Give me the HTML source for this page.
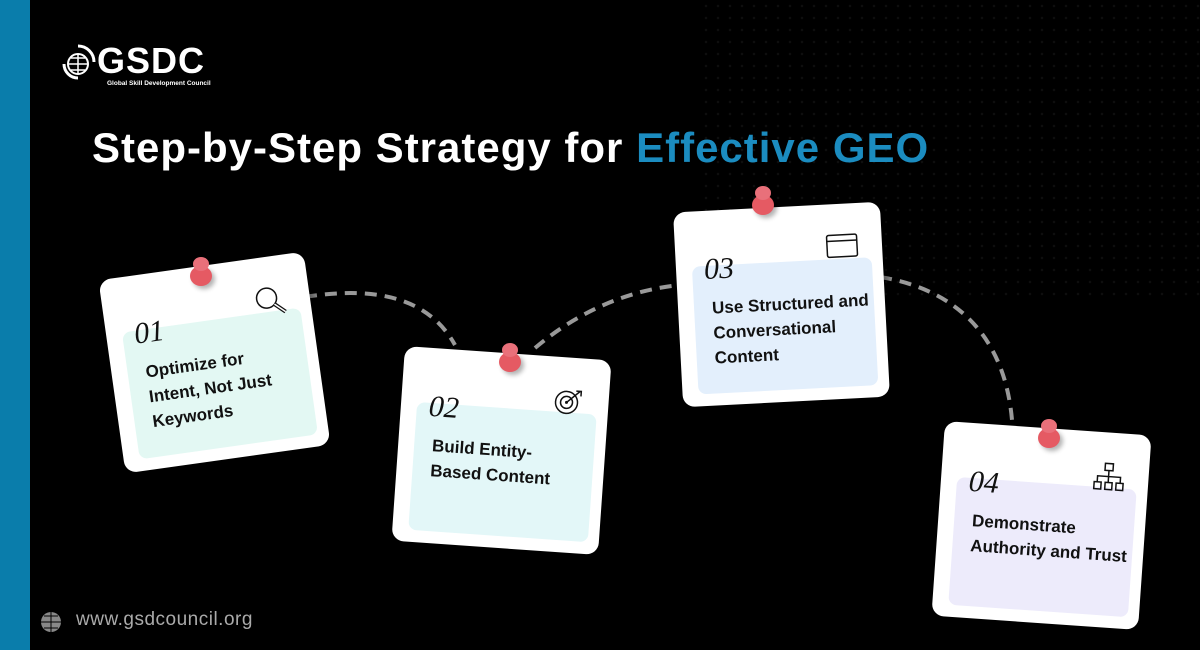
<!DOCTYPE html>
<html><head><meta charset="utf-8"><style>
body{margin:0;width:1200px;height:650px;background:#000;position:relative;overflow:hidden;font-family:"Liberation Sans",sans-serif}
.bar{position:absolute;left:0;top:0;width:30px;height:650px;background:#0a7dab}
.dots{position:absolute;left:700px;top:0;width:500px;height:300px;background-image:radial-gradient(#0e0e0e 1px,transparent 1.5px);background-size:12px 12px}
.title{position:absolute;left:92px;top:124px;font-size:42px;font-weight:bold;color:#fff;letter-spacing:1.0px}
.title span{color:#1b8cc0}
.card{position:absolute;width:207px;height:195px;background:#fff;border-radius:12px;box-shadow:4px 6px 10px rgba(0,0,0,.5)}
.panel{position:absolute;left:16px;top:55px;width:180px;height:128px;border-radius:8px}
.num{position:absolute;left:28px;top:42px;font-family:"Liberation Serif",serif;font-style:italic;font-size:30px;color:#111}
.txt{position:absolute;left:34px;top:85px;font-size:17px;font-weight:bold;color:#111;line-height:25px}
.icon{position:absolute;left:150px;top:28px}
.pin{position:absolute;width:22px;height:20px;border-radius:50%;background:#e55a63;box-shadow:3px 3px 5px rgba(0,0,0,.3)}
.pin:after{content:"";position:absolute;left:3px;top:-9px;width:16px;height:14px;border-radius:50%;background:#e9707a}
.foot{position:absolute;left:76px;top:609px;color:#aaa;font-size:19px;letter-spacing:0.5px}
</style></head><body>
<div class="bar"></div><div class="dots"></div>
<svg style="position:absolute;left:58px;top:42px" width="40" height="44" viewBox="0 0 40 44">
<circle cx="20" cy="22" r="10" fill="none" stroke="#fff" stroke-width="2"/>
<path d="M10 22h20M20 12v20M13 16h14M13 28h14" stroke="#fff" stroke-width="1.5"/>
<path d="M6 22a14 14 0 0 0 14 14" fill="none" stroke="#fff" stroke-width="3"/>
<path d="M20 4a16 16 0 0 1 16 16" fill="none" stroke="#fff" stroke-width="3"/>
</svg>
<div style="position:absolute;left:97px;top:40px;color:#fff;font-size:36px;font-weight:bold;letter-spacing:1px">GSDC</div>
<div style="position:absolute;left:107px;top:80px;color:#fff;font-size:6.5px;font-weight:bold">Global Skill Development Council</div>
<div class="title">Step-by-Step Strategy for <span>Effective GEO</span></div>
<svg style="position:absolute;left:0;top:0" width="1200" height="650">
<g fill="none" stroke="#999" stroke-width="4" stroke-dasharray="12 8">
<path d="M305 297 C380 285 430 300 455 345"/>
<path d="M535 348 C580 310 630 290 680 285"/>
<path d="M880 277 C960 290 1005 340 1012 420"/>
</g></svg>
<div class="card" style="left:111px;top:265px;transform:rotate(-8deg)"><div class="panel" style="background:#e3f8f3"></div><div class="num">01</div>
<svg class="icon" width="36" height="34"><circle cx="14" cy="13" r="10" fill="none" stroke="#111" stroke-width="1.5"/><path d="M21 20l10 9" stroke="#111" stroke-width="4"/><path d="M21 20l10 9" stroke="#fff" stroke-width="1.5"/></svg>
<div class="txt">Optimize for<br>Intent, Not Just<br>Keywords</div></div>
<div class="card" style="left:398px;top:353px;transform:rotate(4deg)"><div class="panel" style="background:#e3f7f8"></div><div class="num">02</div>
<svg class="icon" width="34" height="34"><circle cx="15" cy="17" r="11" fill="none" stroke="#111" stroke-width="1.5"/><circle cx="15" cy="17" r="6" fill="none" stroke="#111" stroke-width="1.5"/><circle cx="15" cy="17" r="1.5" fill="#111"/><path d="M15 17l13-12M24 5h5v5" stroke="#111" stroke-width="1.5" fill="none"/></svg>
<div class="txt">Build Entity-<br>Based Content</div></div>
<div class="card" style="left:678px;top:207px;transform:rotate(-3deg)"><div class="panel" style="background:#e3effc"></div><div class="num">03</div>
<svg class="icon" width="36" height="30"><rect x="2" y="3" width="30" height="22" rx="2" fill="none" stroke="#111" stroke-width="1.5"/><path d="M2 9h30" stroke="#111" stroke-width="1.5"/></svg>
<div class="txt">Use Structured and<br>Conversational<br>Content</div></div>
<div class="card" style="left:938px;top:428px;transform:rotate(4deg)"><div class="panel" style="background:#edebfb"></div><div class="num">04</div>
<svg class="icon" width="36" height="34"><g fill="none" stroke="#111" stroke-width="1.5"><rect x="13" y="3" width="8" height="7"/><rect x="3" y="22" width="7" height="7"/><rect x="14" y="22" width="7" height="7"/><rect x="25" y="22" width="7" height="7"/><path d="M17 10v12M6 22v-6h23v6"/></g></svg>
<div class="txt">Demonstrate<br>Authority and Trust</div></div>
<div class="pin" style="left:190px;top:266px"></div>
<div class="pin" style="left:499px;top:352px"></div>
<div class="pin" style="left:752px;top:195px"></div>
<div class="pin" style="left:1038px;top:428px"></div>
<svg style="position:absolute;left:40px;top:611px" width="22" height="22"><circle cx="11" cy="11" r="10" fill="#888"/><path d="M1 11h20M11 1v20M4 5h14M4 17h14" stroke="#000" stroke-width="1"/></svg>
<div class="foot">www.gsdcouncil.org</div>
</body></html>
